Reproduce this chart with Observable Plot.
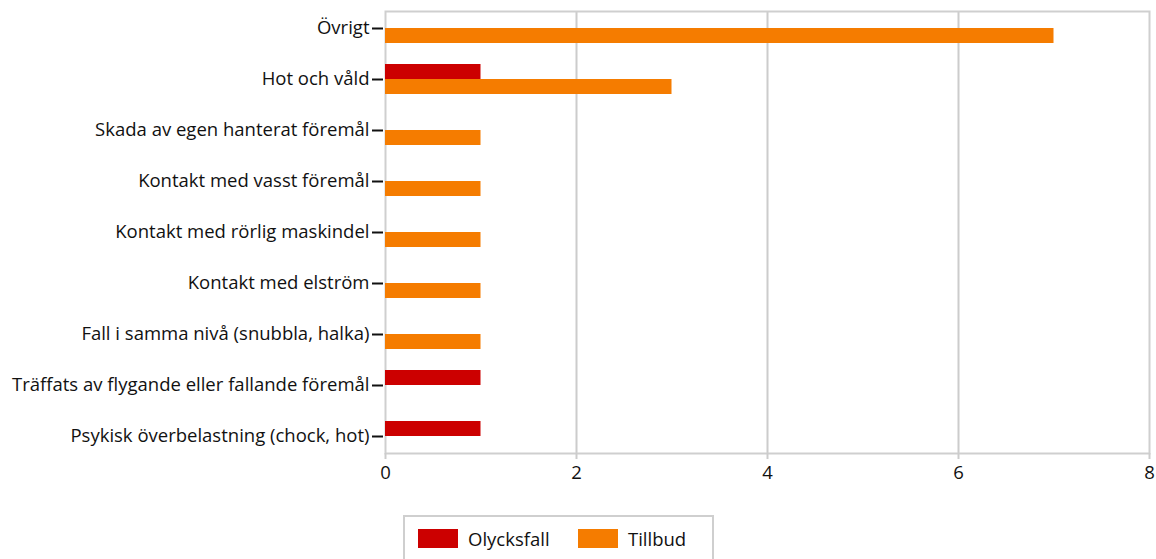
<!DOCTYPE html>
<html>
<head>
<meta charset="utf-8">
<script src="https://cdn.jsdelivr.net/npm/d3@7"></script>
<script src="https://cdn.jsdelivr.net/npm/@observablehq/plot@0.6"></script>
<style>
  body { margin: 0; background: #fff; font-family: "Open Sans", Lato, sans-serif; }
  #chart svg { display: block; }
  .legend { margin-left: 403px; margin-top: 15px; width: 311px; height: 60px; border: 2px solid #cfcfcf; box-sizing: border-box; position: relative; color: #111; font-size: 18.5px; }
  .item { position: absolute; top: 12px; display: flex; align-items: center; line-height: 19px; }
  .sw { width: 40px; height: 19px; margin-right: 10px; }
</style>
</head>
<body>
<div id="chart"></div>
<div class="legend">
  <div class="item" style="left:13px"><div class="sw" style="background:#cc0000"></div><span>Olycksfall</span></div>
  <div class="item" style="left:173px"><div class="sw" style="background:#f57c00"></div><span>Tillbud</span></div>
</div>
<script>
const categories = [
  "Övrigt",
  "Hot och våld",
  "Skada av egen hanterat föremål",
  "Kontakt med vasst föremål",
  "Kontakt med rörlig maskindel",
  "Kontakt med elström",
  "Fall i samma nivå (snubbla, halka)",
  "Träffats av flygande eller fallande föremål",
  "Psykisk överbelastning (chock, hot)"
];
const olycksfall = [0, 1, 0, 0, 0, 0, 0, 1, 1];
const tillbud    = [7, 3, 1, 1, 1, 1, 1, 0, 0];
const xTicks = [0, 2, 4, 6, 8];
const seriesNames = ["Olycksfall", "Tillbud"];
const seriesColors = ["#cc0000", "#f57c00"];

const rowsO = categories.map((c, i) => ({category: c, value: olycksfall[i]}));
const rowsT = categories.map((c, i) => ({category: c, value: tillbud[i]}));

const chart = Plot.plot({
  width: 1156,
  height: 500,
  marginTop: 11,
  marginBottom: 47,
  marginLeft: 385,
  marginRight: 7,
  style: {fontFamily: "'Open Sans', Lato, sans-serif", fontSize: "18.5px", color: "#111", background: "#fff"},
  x: {domain: [0, 8]},
  y: {domain: categories, paddingInner: 0.4175, paddingOuter: 0, align: 0.5},
  marks: [
    Plot.gridX(xTicks.filter(t => t > 0 && t < 8), {stroke: "#cccccc", strokeOpacity: 1, strokeWidth: 2}),
    Plot.frame({stroke: "#cfcfcf", strokeWidth: 2}),
    Plot.barX(rowsO, {x: "value", y: "category", fill: seriesColors[0], insetBottom: 15}),
    Plot.barX(rowsT, {x: "value", y: "category", fill: seriesColors[1], insetTop: 15}),
    Plot.axisX(xTicks, {anchor: "bottom", tickSize: 6, stroke: "#cccccc", strokeWidth: 2, fill: "#111", tickPadding: 6, fontSize: 18.5, label: null}),
    Plot.axisY({anchor: "left", tickSize: 11, stroke: "#111", strokeWidth: 2, fill: "#111", tickPadding: 3, dx: -2, fontSize: 18.5, label: null})
  ]
});
document.getElementById("chart").appendChild(chart);
</script>
</body>
</html>
